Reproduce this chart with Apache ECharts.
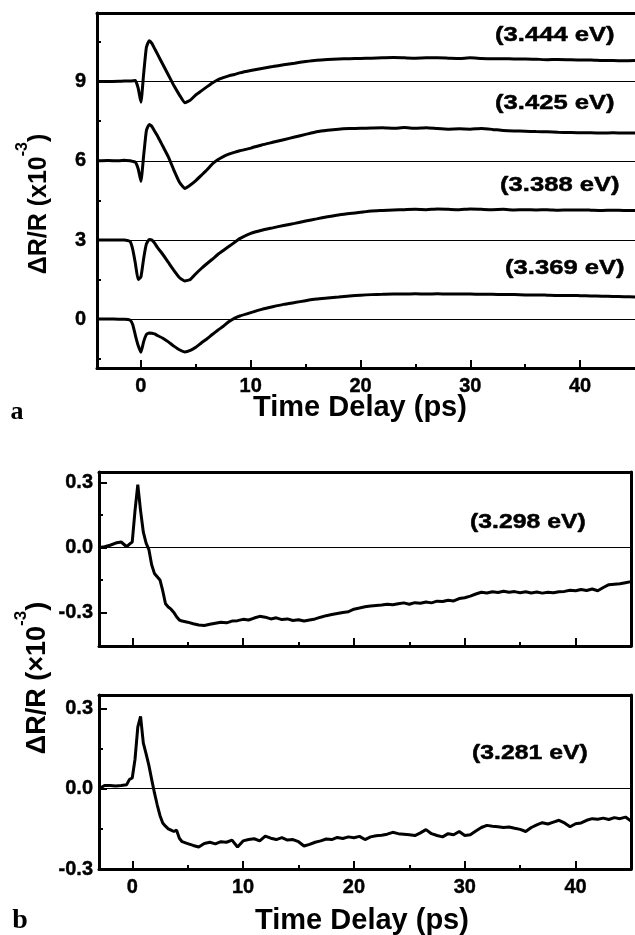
<!DOCTYPE html>
<html>
<head>
<meta charset="utf-8">
<script src="https://cdn.jsdelivr.net/npm/echarts@6/dist/echarts.min.js"></script>
<style>
  html, body { margin: 0; padding: 0; background: #fff; }
  #main { width: 635px; height: 935px; }
</style>
</head>
<body>
<div id="main"></div>
<script>
// panel a : time axis and the four offset traces (values as read on the axis)
var timeA = [-4, -3, -2, -1.5, -1, -0.75, -0.5, -0.25, 0, 0.25, 0.5, 0.75, 1, 1.25, 1.5,
  2, 2.5, 3, 3.5, 4, 4.5, 5, 5.5, 6, 6.5, 7, 7.5, 8, 8.5, 9,
  10, 11, 12, 13, 14, 15, 16, 17, 18, 19, 20, 21, 22, 23, 24, 25, 26, 27, 28, 29,
  30, 31, 32, 33, 34, 35, 36, 37, 38, 39, 40, 41, 42, 43, 44, 45];

var s3444 = [9.0, 9.0, 9.01, 9.02, 9.02, 9.03, 9.04, 8.75, 8.22, 9.3, 10.3, 10.55, 10.45, 10.25, 10.05,
  9.65, 9.25, 8.85, 8.5, 8.2, 8.3, 8.5, 8.65, 8.8, 8.95, 9.07, 9.15, 9.22, 9.27, 9.33,
  9.42, 9.5, 9.57, 9.64, 9.7, 9.76, 9.81, 9.84, 9.86, 9.87, 9.88, 9.89, 9.9, 9.91, 9.9, 9.89, 9.9, 9.9, 9.89, 9.88,
  9.9, 9.88, 9.87, 9.87, 9.86, 9.86, 9.85, 9.83, 9.84, 9.83, 9.82, 9.82, 9.8, 9.8, 9.79, 9.8];

var s3425 = [6.0, 6.01, 6.0, 6.02, 6.0, 5.98, 5.95, 5.7, 5.22, 6.2, 7.15, 7.38, 7.3, 7.12, 6.95,
  6.55, 6.15, 5.65, 5.2, 4.95, 5.08, 5.25, 5.45, 5.65, 5.88, 6.04, 6.16, 6.25, 6.32, 6.38,
  6.48, 6.6, 6.7, 6.8, 6.9, 7.0, 7.1, 7.16, 7.2, 7.22, 7.23, 7.24, 7.25, 7.23, 7.26, 7.23, 7.25, 7.22, 7.2, 7.21,
  7.2, 7.22, 7.19, 7.15, 7.13, 7.12, 7.11, 7.1, 7.08, 7.07, 7.06, 7.06, 7.05, 7.06, 7.05, 7.05];

var s3388 = [3.0, 3.0, 3.0, 3.0, 2.95, 2.65, 2.1, 1.5, 1.6, 2.3, 2.85, 3.02, 3.0, 2.88, 2.72,
  2.45, 2.15, 1.85, 1.58, 1.45, 1.5, 1.72, 1.92, 2.1, 2.27, 2.45, 2.6, 2.75, 2.9, 3.05,
  3.25, 3.37, 3.46, 3.55, 3.63, 3.72, 3.8, 3.88, 3.95, 4.0, 4.05, 4.1, 4.12, 4.14, 4.15, 4.16, 4.15, 4.17, 4.16, 4.15,
  4.17, 4.16, 4.15, 4.16, 4.14, 4.15, 4.14, 4.15, 4.13, 4.14, 4.14, 4.13, 4.12, 4.13, 4.12, 4.12];

var s3369 = [0.01, 0.01, 0.0, 0.0, -0.03, -0.2, -0.62, -1.0, -1.25, -0.85, -0.58, -0.52, -0.53, -0.56, -0.62,
  -0.72, -0.86, -1.02, -1.16, -1.24, -1.18, -1.06, -0.9, -0.75, -0.58, -0.42, -0.27, -0.1, 0.03, 0.12,
  0.25, 0.37, 0.47, 0.56, 0.63, 0.7, 0.76, 0.8, 0.84, 0.88, 0.91, 0.93, 0.94, 0.95, 0.95, 0.96, 0.95, 0.96, 0.95, 0.95,
  0.95, 0.94, 0.94, 0.93, 0.93, 0.92, 0.92, 0.91, 0.9, 0.9, 0.89, 0.88, 0.87, 0.86, 0.85, 0.84];

// panel b : two traces
var timeB = [-3, -2.5, -2, -1.5, -1, -0.5, -0.25, 0, 0.25, 0.5, 0.75, 1, 1.25, 1.5, 1.75, 2, 2.25, 2.5, 2.75,
  3, 3.25, 3.5, 3.75, 4, 4.25, 4.5, 5, 5.5, 6,
  6.5, 7, 7.5, 8, 8.5, 9, 9.5, 10, 10.5, 11, 11.5, 12, 12.5, 13, 13.5, 14, 14.5, 15, 15.5, 16,
  16.5, 17, 17.5, 18, 18.5, 19, 19.5, 20, 20.5, 21, 21.5, 22, 22.5, 23, 23.5, 24, 24.5, 25, 25.5, 26,
  26.5, 27, 27.5, 28, 28.5, 29, 29.5, 30, 30.5, 31, 31.5, 32, 32.5, 33, 33.5, 34, 34.5, 35, 35.5, 36,
  36.5, 37, 37.5, 38, 38.5, 39, 39.5, 40, 40.5, 41, 41.5, 42, 42.5, 43, 43.5, 44, 44.5, 45];

var s3298 = [0.0, 0.003, 0.01, 0.02, 0.025, 0.003, 0.015, 0.025, 0.17, 0.29, 0.17, 0.07, 0.02, -0.01, -0.08, -0.12, -0.135, -0.15, -0.2,
  -0.26, -0.275, -0.285, -0.3, -0.32, -0.335, -0.34, -0.345, -0.352, -0.358,
  -0.36, -0.355, -0.35, -0.345, -0.348, -0.34, -0.338, -0.332, -0.335, -0.326, -0.318, -0.322, -0.33, -0.325, -0.333, -0.33, -0.337, -0.334, -0.34, -0.335,
  -0.33, -0.322, -0.315, -0.31, -0.305, -0.3, -0.297, -0.285, -0.28, -0.274, -0.27, -0.268, -0.266, -0.262, -0.265, -0.26, -0.256, -0.262, -0.255, -0.258,
  -0.252, -0.256, -0.248, -0.25, -0.244, -0.247, -0.236, -0.232, -0.225, -0.215, -0.207, -0.21, -0.205, -0.208, -0.202, -0.207, -0.204, -0.209, -0.205, -0.21,
  -0.206, -0.211, -0.207, -0.209, -0.205, -0.203, -0.198, -0.2, -0.194, -0.199, -0.192, -0.2, -0.185, -0.172, -0.17, -0.168, -0.163, -0.158];

var s3281 = [0.0, 0.012, 0.012, 0.01, 0.012, 0.015, 0.035, 0.04, 0.11, 0.23, 0.27, 0.17, 0.13, 0.087, 0.035, -0.015, -0.06, -0.1, -0.128,
  -0.14, -0.15, -0.155, -0.16, -0.155, -0.185, -0.198, -0.205, -0.212, -0.218,
  -0.205, -0.2, -0.206, -0.198, -0.2, -0.192, -0.218, -0.195, -0.19, -0.187, -0.195, -0.177, -0.185, -0.19, -0.183, -0.192, -0.19, -0.198, -0.214, -0.208,
  -0.2, -0.195, -0.188, -0.19, -0.182, -0.186, -0.18, -0.183, -0.178, -0.19, -0.18, -0.176, -0.174, -0.17, -0.163, -0.168, -0.17, -0.172, -0.175, -0.165,
  -0.153, -0.168, -0.175, -0.18, -0.168, -0.172, -0.16, -0.175, -0.172, -0.158, -0.145, -0.137, -0.14, -0.142, -0.145, -0.143, -0.148, -0.152, -0.16, -0.145,
  -0.135, -0.127, -0.132, -0.125, -0.118, -0.128, -0.142, -0.131, -0.128, -0.118, -0.112, -0.114, -0.11, -0.115, -0.108, -0.112, -0.106, -0.121];

var majorX = [0, 10, 20, 30, 40];
var minorX = [5, 15, 25, 35];
var majorYA = [0, 3, 6, 9];
var minorYA = [-1.5, 1.5, 4.5, 7.5, 10.5];
var majorYB = [-0.3, 0, 0.3];
var minorYB = [-0.15, 0.15];
var baseLinesA = [0, 3, 6, 9];

[[timeA, s3444], [timeA, s3425], [timeA, s3388], [timeA, s3369], [timeB, s3298], [timeB, s3281]].forEach(function (p, i) {
  if (p[0].length !== p[1].length) throw new Error('length mismatch ' + i + ': ' + p[0].length + ' vs ' + p[1].length);
});

var FONT = '"Liberation Sans", Arial, Helvetica, sans-serif';
var labelStyle = {
  color: '#000', fontSize: 20, fontWeight: 'bold', fontFamily: FONT,
  textBorderColor: '#000', textBorderWidth: 0.4
};

function pairs(t, v) {
  return t.map(function (x, i) { return [x, v[i]]; });
}

// three x axes per grid: main ticks+labels, short minor ticks, top frame line
function makeX(g, min, max, labels) {
  return [
    {
      type: 'value', gridIndex: g, min: min, max: max, position: 'bottom',
      axisLine: { show: true, onZero: false, lineStyle: { color: '#000', width: 3 } },
      axisTick: { show: true, inside: true, length: 8, customValues: majorX, lineStyle: { color: '#000', width: 2 } },
      axisLabel: Object.assign({ show: labels, customValues: majorX, margin: 8 }, labelStyle),
      splitLine: { show: false }
    },
    {
      type: 'value', gridIndex: g, min: min, max: max, position: 'bottom',
      axisLine: { show: false, onZero: false },
      axisTick: { show: true, inside: true, length: 4, customValues: minorX, lineStyle: { color: '#000', width: 2 } },
      axisLabel: { show: false },
      splitLine: { show: false }
    },
    {
      type: 'value', gridIndex: g, min: min, max: max, position: 'top',
      axisLine: { show: true, onZero: false, lineStyle: { color: '#000', width: 3 } },
      axisTick: { show: false }, axisLabel: { show: false }, splitLine: { show: false }
    }
  ];
}

function makeY(g, min, max, major, minor, fmt, margin, frameRight) {
  var axes = [
    {
      type: 'value', gridIndex: g, min: min, max: max, position: 'left',
      axisLine: { show: true, onZero: false, lineStyle: { color: '#000', width: 3 } },
      axisTick: { show: true, inside: true, length: 8, customValues: major, lineStyle: { color: '#000', width: 2 } },
      axisLabel: Object.assign({ customValues: major, margin: margin, formatter: fmt }, labelStyle),
      splitLine: { show: false }
    },
    {
      type: 'value', gridIndex: g, min: min, max: max, position: 'left',
      axisLine: { show: false, onZero: false },
      axisTick: { show: true, inside: true, length: 4, customValues: minor, lineStyle: { color: '#000', width: 2 } },
      axisLabel: { show: false },
      splitLine: { show: false }
    }
  ];
  if (frameRight) {
    axes.push({
      type: 'value', gridIndex: g, min: min, max: max, position: 'right',
      axisLine: { show: true, onZero: false, lineStyle: { color: '#000', width: 3 } },
      axisTick: { show: false }, axisLabel: { show: false }, splitLine: { show: false }
    });
  }
  return axes;
}

function trace(data, xi, yi, smooth, lines) {
  var s = {
    type: 'line', xAxisIndex: xi, yAxisIndex: yi, data: data,
    showSymbol: false, symbol: 'none', smooth: smooth,
    lineStyle: { color: '#000', width: 3 },
    z: 5, animation: false
  };
  if (lines) {
    s.markLine = {
      silent: true, symbol: ['none', 'none'], animation: false,
      label: { show: false },
      lineStyle: { color: '#000', width: 1, type: 'solid' },
      data: lines.map(function (v) { return { yAxis: v }; })
    };
  }
  return s;
}

function evLabel(text, x, y, sx) {
  return {
    type: 'text', x: x, y: y, scaleX: sx,
    style: {
      text: text, fill: '#000', font: 'bold 21px ' + FONT,
      stroke: '#000', lineWidth: 0.5,
      textAlign: 'left', align: 'left', textVerticalAlign: 'middle', verticalAlign: 'middle'
    }
  };
}

function yTitle(x, y, size, times) {
  var rich = {
    m: { fontSize: size, fontWeight: 'bold', fontFamily: FONT, lineHeight: size + 12, verticalAlign: 'bottom', fill: '#000' },
    s: { fontSize: Math.round(size * 0.62), fontWeight: 'bold', fontFamily: FONT, lineHeight: 16, verticalAlign: 'top', fill: '#000' }
  };
  return {
    type: 'text', x: x, y: y, rotation: Math.PI / 2,
    style: {
      text: '{m|ΔR/R (' + times + '10}{s|-3}{m|)}', rich: rich,
      textAlign: 'center', align: 'center', textVerticalAlign: 'middle', verticalAlign: 'middle', fill: '#000'
    }
  };
}

function plainText(text, x, y, font) {
  return {
    type: 'text', x: x, y: y,
    style: {
      text: text, fill: '#000', font: font,
      textAlign: 'center', align: 'center', textVerticalAlign: 'middle', verticalAlign: 'middle'
    }
  };
}

var fmt1 = function (v) { return v.toFixed(1); };
var fmt0 = function (v) { return String(v); };

var chart = echarts.init(document.getElementById('main'), null, { renderer: 'canvas' });

var option = {
  backgroundColor: '#fff',
  animation: false,
  grid: [
    { left: 97, top: 13, width: 539, height: 355 },
    { left: 99, top: 472, width: 532, height: 174 },
    { left: 99, top: 695, width: 532, height: 174 }
  ],
  xAxis: [].concat(makeX(0, -4, 45, true), makeX(1, -3, 45, false), makeX(2, -3, 45, true)),
  yAxis: [].concat(
    makeY(0, -1.85, 11.6, majorYA, minorYA, fmt0, 11, false),
    makeY(1, -0.455, 0.348, majorYB, minorYB, fmt1, 6, true),
    makeY(2, -0.3, 0.35, majorYB, minorYB, fmt1, 6, true)
  ),
  series: [
    trace(pairs(timeA, s3369), 0, 0, 0.15, baseLinesA),
    trace(pairs(timeA, s3388), 0, 0, 0.15),
    trace(pairs(timeA, s3425), 0, 0, 0.15),
    trace(pairs(timeA, s3444), 0, 0, 0.15),
    trace(pairs(timeB, s3298), 3, 2, false, [0]),
    trace(pairs(timeB, s3281), 6, 5, false, [0])
  ],
  graphic: [
    evLabel('(3.444 eV)', 495, 35, 1.22),
    evLabel('(3.425 eV)', 495, 103, 1.22),
    evLabel('(3.388 eV)', 500, 185, 1.22),
    evLabel('(3.369 eV)', 505, 268, 1.22),
    evLabel('(3.298 eV)', 470, 522, 1.18),
    evLabel('(3.281 eV)', 472, 753, 1.18),
    yTitle(33, 204, 25, 'x'),
    yTitle(32, 678, 27, '×'),
    plainText('Time Delay (ps)', 360, 408, 'bold 29px ' + FONT),
    plainText('Time Delay (ps)', 362, 921, 'bold 29px ' + FONT),
    plainText('a', 17, 412, 'bold 26px "Liberation Serif", "Times New Roman", serif'),
    plainText('b', 20, 921, 'bold 28px "Liberation Serif", "Times New Roman", serif')
  ]
};

chart.setOption(option);
</script>
</body>
</html>
